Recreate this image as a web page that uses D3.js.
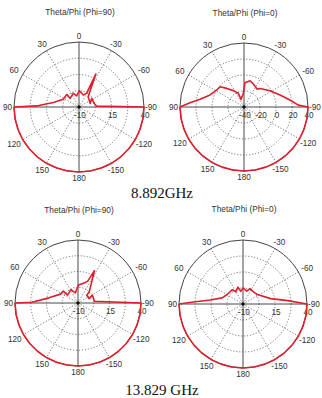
<!DOCTYPE html>
<html lang="en">
<head>
<meta charset="UTF-8">
<title>Farfield polar plots</title>
<script src="https://d3js.org/d3.v7.min.js"></script>
<style>
  body { margin: 0; background: #fff; }
  .ang, .rad { font-family: "Liberation Sans", Arial, sans-serif; font-size: 8.2px; fill: #333; }
  .title { font-family: "Liberation Sans", Arial, sans-serif; font-size: 8.3px; fill: #333; }
  .caption { font-family: "Liberation Serif", "Times New Roman", serif; font-size: 15px; fill: #111; }
</style>
</head>
<body>
<svg width="322" height="398"></svg>
<script>
// angle ticks (degrees, positive = counter-clockwise from top)
const angleTicks = [0, 30, 60, 90, 120, 150, 180, -150, -120, -90, -60, -30];
const titles = ["Theta/Phi (Phi=90)", "Theta/Phi (Phi=0)", "Theta/Phi (Phi=90)", "Theta/Phi (Phi=0)"];
const captions = ["8.892GHz", "13.829 GHz"];
const gainDomains = [[-10, 40], [-40, 40], [-10, 40], [-10, 40]];
const gainGrid = [[2.5, 15, 27.5], [-20, 0, 20], [2.5, 15, 27.5], [2.5, 15, 27.5]];
const gainLabels = [[-10, 15, 40], [-40, -20, 0, 20, 40], [-10, 15, 40], [-10, 15, 40]];

// back hemisphere, shared by every cut
const backTheta = [-90, -100, -110, -120, -130, -140, -150, -160, -170, -180, 170, 160, 150, 140, 130, 120, 110, 100, 90];
const backGain = [40, 40, 40, 40, 40, 40, 40, 40, 40, 40, 40, 40, 40, 40, 40, 40, 40, 40, 40];

// 8.892 GHz, Phi=90
const theta1 = [90, 88.5, 87.5, 80, 64, 44, 46, 22, 12, -1, -20, -29, -27, -42, -72, -56, -76, -87];
const gain1 = [40, 22, 20, 10, 3.5, 3.5, -0.5, 1.4, -1.3, 2.5, -0.2, 2, 18.5, 0.5, -1, 1.8, 1.9, 3.5];
// 8.892 GHz, Phi=0
const theta2 = [90, 85.4, 80, 70.5, 58, 49.7, 43, 33, 22.5, 21, 2.7, -2.3, -13, -22, -37, -40.8, -58, -71.6, -81.3, -88];
const gain2 = [40, 27.7, 15.8, 5, 0.2, -0.8, -8.2, -15.6, -21.5, -29.7, -22.9, -9.6, -6.4, -9, -12.3, -9.4, -1.6, 7.4, 18, 28];
// 13.829 GHz, Phi=90
const theta3 = [90, 89, 80, 63, 51, 53, 28, 15, -2, -20, -24, -27, -45, -48.5, -69, -61, -84];
const gain3 = [40, 26.5, 13.5, 5.5, 5, 0.4, 2, -1.7, 4.3, 7.4, 9, 18.7, 2.7, -0.7, -0.4, 3, 3.2];
// 13.829 GHz, Phi=0
const theta4 = [90, 87.6, 83, 73.7, 59, 36.6, 31, 16.7, 10, -1, -16, -24.6, -40.6, -57, -79, -85.7, -89];
const gain4 = [40, 28.7, 15.7, 7, 4.4, 4, 1, 3.7, 0, 2.5, 0.5, 3.2, 2.5, 3.5, 12, 25, 35.5];

const thetas = [theta1, theta2, theta3, theta4];
const gains = [gain1, gain2, gain3, gain4];

const panels = [
  { cx: 79, cy: 107, R: 65, ty: 15 },
  { cx: 244, cy: 107, R: 64, ty: 16 },
  { cx: 78, cy: 303, R: 63, ty: 213 },
  { cx: 243, cy: 304, R: 64, ty: 212 }
];

const svg = d3.select("svg");
const rad = d => -d * Math.PI / 180;
const side = d => Math.abs(Math.abs(d) - 90) < 1;

panels.forEach((p, i) => {
  const g = svg.append("g").attr("transform", `translate(${p.cx},${p.cy})`);
  const r = d3.scaleLinear().domain(gainDomains[i]).range([0, p.R]);

  // dotted rings
  g.selectAll(".ring").data(gainGrid[i]).enter().append("circle")
    .attr("r", d => r(d))
    .attr("fill", "none").attr("stroke", "#555")
    .attr("stroke-width", 0.8).attr("stroke-dasharray", "1.2,1.8");

  // spokes
  g.selectAll(".spoke").data(angleTicks).enter().append("line")
    .attr("x1", 0).attr("y1", 0)
    .attr("x2", d => p.R * Math.sin(rad(d)))
    .attr("y2", d => -p.R * Math.cos(rad(d)))
    .attr("stroke", d => d % 90 === 0 ? "#333" : "#555")
    .attr("stroke-width", d => d % 90 === 0 ? 0.9 : 0.8)
    .attr("stroke-dasharray", d => d % 90 === 0 ? null : "1.2,1.8");

  g.append("circle").attr("r", p.R)
    .attr("fill", "none").attr("stroke", "#444").attr("stroke-width", 1);

  // angle labels (+-90 hug the rim, the rest are centred)
  g.selectAll(".ang").data(angleTicks).enter().append("text")
    .attr("class", "ang")
    .attr("text-anchor", d => side(d) ? (d > 0 ? "end" : "start") : "middle")
    .attr("dy", "0.35em")
    .attr("x", d => side(d)
      ? (d > 0 ? -(p.R + 2) : p.R + 1)
      : (p.R + 7 + 3.5 * Math.abs(Math.sin(rad(d)))) * Math.sin(rad(d)))
    .attr("y", d => -(p.R + 6 + 3 * Math.abs(Math.sin(rad(d)))) * Math.cos(rad(d)))
    .text(d => d);

  // gain labels along the horizontal axis
  g.selectAll(".rad").data(gainLabels[i]).enter().append("text")
    .attr("class", "rad")
    .attr("text-anchor", "middle")
    .attr("x", d => r(d) + 1)
    .attr("y", 11)
    .text(d => d);

  const line = d3.lineRadial()
    .angle(d => rad(d[0]))
    .radius(d => r(d[1]));
  const pts = d3.zip(thetas[i].concat(backTheta), gains[i].concat(backGain));
  g.append("path").datum(pts)
    .attr("d", line)
    .attr("fill", "none").attr("stroke", "#dc1f2c")
    .attr("stroke-width", 1.6).attr("stroke-linejoin", "round");

  g.append("circle").attr("r", 1.8).attr("fill", "#111");

  svg.append("text").attr("class", "title")
    .attr("x", p.cx + 1).attr("y", p.ty)
    .attr("text-anchor", "middle")
    .text(titles[i]);
});

svg.selectAll(".caption").data(captions).enter().append("text")
  .attr("class", "caption")
  .attr("x", 162).attr("y", (d, i) => i === 0 ? 198 : 395)
  .attr("text-anchor", "middle")
  .text(d => d);
</script>
</body>
</html>
